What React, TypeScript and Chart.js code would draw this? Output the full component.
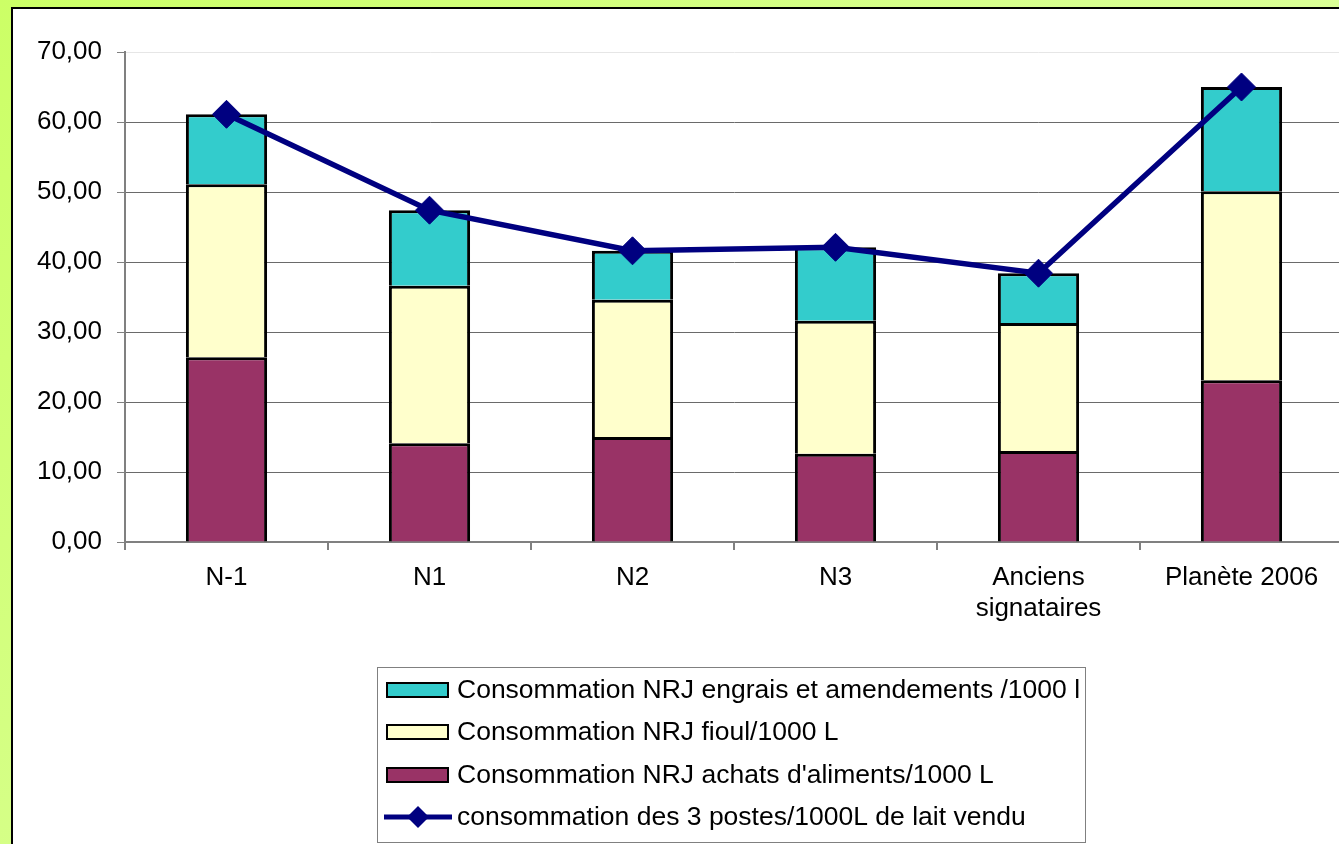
import React, { useEffect, useRef } from "react";
import { Chart, registerables } from "chart.js";

Chart.register(...registerables);

const categories: (string | string[])[] = ["N-1", "N1", "N2", "N3", ["Anciens", "signataires"], "Planète 2006"];
const achatsAliments = [26.4, 14.1, 15.0, 12.6, 13.0, 23.1];
const fioul = [24.7, 22.5, 19.6, 19.0, 18.3, 27.0];
const engrais = [10.0, 10.8, 7.0, 10.5, 7.1, 14.9];
const total3Postes = [61.1, 47.4, 41.6, 42.1, 38.4, 65.0];
const yTicks = [0, 10, 20, 30, 40, 50, 60, 70];

const labelEngrais = "Consommation NRJ engrais et amendements /1000 l";
const labelFioul = "Consommation NRJ fioul/1000 L";
const labelAchats = "Consommation NRJ achats d'aliments/1000 L";
const labelTotal = "consommation des 3 postes/1000L de lait vendu";

const FONT = "'Liberation Sans', Arial, sans-serif";
const NAVY = "#000080";

const legendPlugin = {
  id: "boxLegend",
  afterDraw(chart: any) {
    const ctx = chart.ctx as CanvasRenderingContext2D;
    const ds = chart.data.datasets;
    const order = [2, 1, 0, 3];
    ctx.save();
    ctx.strokeStyle = "#808080";
    ctx.lineWidth = 1;
    ctx.strokeRect(377.5, 667.5, 708, 175);
    const rows = [690, 732, 775, 817];
    ctx.font = `26.5px ${FONT}`;
    ctx.textBaseline = "middle";
    ctx.textAlign = "left";
    order.forEach((di, i) => {
      const d = ds[di];
      const cy = rows[i];
      if (d.type === "line") {
        ctx.strokeStyle = NAVY;
        ctx.lineWidth = 5;
        ctx.beginPath();
        ctx.moveTo(384, cy);
        ctx.lineTo(452, cy);
        ctx.stroke();
        ctx.fillStyle = NAVY;
        ctx.beginPath();
        ctx.moveTo(418 - 11, cy);
        ctx.lineTo(418, cy - 11);
        ctx.lineTo(418 + 11, cy);
        ctx.lineTo(418, cy + 11);
        ctx.closePath();
        ctx.fill();
      } else {
        ctx.fillStyle = d.backgroundColor;
        ctx.fillRect(387, cy - 7, 61, 14);
        ctx.strokeStyle = "#000";
        ctx.lineWidth = 2;
        ctx.strokeRect(387, cy - 7, 61, 14);
      }
      ctx.fillStyle = "#000";
      ctx.fillText(d.label, 457, cy + 1);
    });
    ctx.restore();
  },
};

export default function App() {
  const ref = useRef<HTMLCanvasElement | null>(null);
  useEffect(() => {
    if (!ref.current) return;
    const barCommon = {
      type: "bar",
      borderColor: "#000",
      borderWidth: 3,
      stack: "s",
      order: 1,
      barPercentage: 0.4,
      categoryPercentage: 1,
    };
    const chart = new Chart(ref.current, {
      type: "bar",
      data: {
        labels: categories as any,
        datasets: [
          { ...barCommon, label: labelAchats, data: achatsAliments, backgroundColor: "#993366" } as any,
          { ...barCommon, label: labelFioul, data: fioul, backgroundColor: "#FFFFCC" } as any,
          { ...barCommon, label: labelEngrais, data: engrais, backgroundColor: "#33CCCC" } as any,
          {
            type: "line",
            label: labelTotal,
            data: total3Postes,
            borderColor: NAVY,
            backgroundColor: NAVY,
            borderWidth: 5.5,
            pointStyle: "rectRot",
            pointRadius: 14,
            pointBackgroundColor: NAVY,
            pointBorderColor: NAVY,
            pointBorderWidth: 1,
            stack: "line",
            order: 0,
            tension: 0,
          } as any,
        ],
      },
      options: {
        responsive: false,
        maintainAspectRatio: false,
        devicePixelRatio: 1,
        animation: false,
        layout: { padding: { left: 0, top: 52, right: 17, bottom: 222 } },
        plugins: {
          legend: { display: false },
          tooltip: { enabled: false },
          title: { display: false },
        },
        scales: {
          x: {
            stacked: true,
            offset: true,
            grid: {
              offset: true,
              drawOnChartArea: false,
              drawTicks: true,
              tickLength: 8,
              tickColor: "#808080",
              lineWidth: 2,
            },
            border: { display: true, color: "#808080", width: 2 },
            ticks: {
              color: "#000",
              font: { family: FONT, size: 26 },
              padding: 12,
              maxRotation: 0,
              autoSkip: false,
            },
            afterFit(scale: any) {
              scale.height = 80;
            },
          },
          y: {
            stacked: true,
            min: 0,
            max: 70,
            afterBuildTicks(scale: any) {
              scale.ticks = yTicks.map((v) => ({ value: v }));
            },
            grid: {
              color: (c: any) => (c.tick && c.tick.value === 70 ? "#e6e6e6" : "#6a6a6a"),
              lineWidth: 1,
              drawTicks: true,
              tickLength: 8,
              tickColor: "#808080",
            },
            border: { display: true, color: "#808080", width: 2 },
            ticks: {
              color: "#000",
              font: { family: FONT, size: 26 },
              padding: 15,
              callback: (v: any) => Number(v).toFixed(2).replace(".", ","),
            },
            afterFit(scale: any) {
              scale.width = 125;
            },
          },
        },
      },
      plugins: [legendPlugin],
    });
    return () => chart.destroy();
  }, []);

  return (
    <div
      style={{
        position: "fixed",
        left: 0,
        top: 0,
        width: 1339,
        height: 844,
        overflow: "hidden",
        background: "linear-gradient(135deg, #CCFF66 0%, #D8FF90 50%, #E2FFAA 100%)",
      }}
    >
      <div
        style={{
          position: "absolute",
          left: 11,
          top: 7,
          width: 1400,
          height: 900,
          background: "#fff",
          border: "2px solid #000",
        }}
      />
      <canvas
        ref={ref}
        width={1360}
        height={844}
        style={{ position: "absolute", left: 0, top: 0, width: 1360, height: 844 }}
      />
    </div>
  );
}
